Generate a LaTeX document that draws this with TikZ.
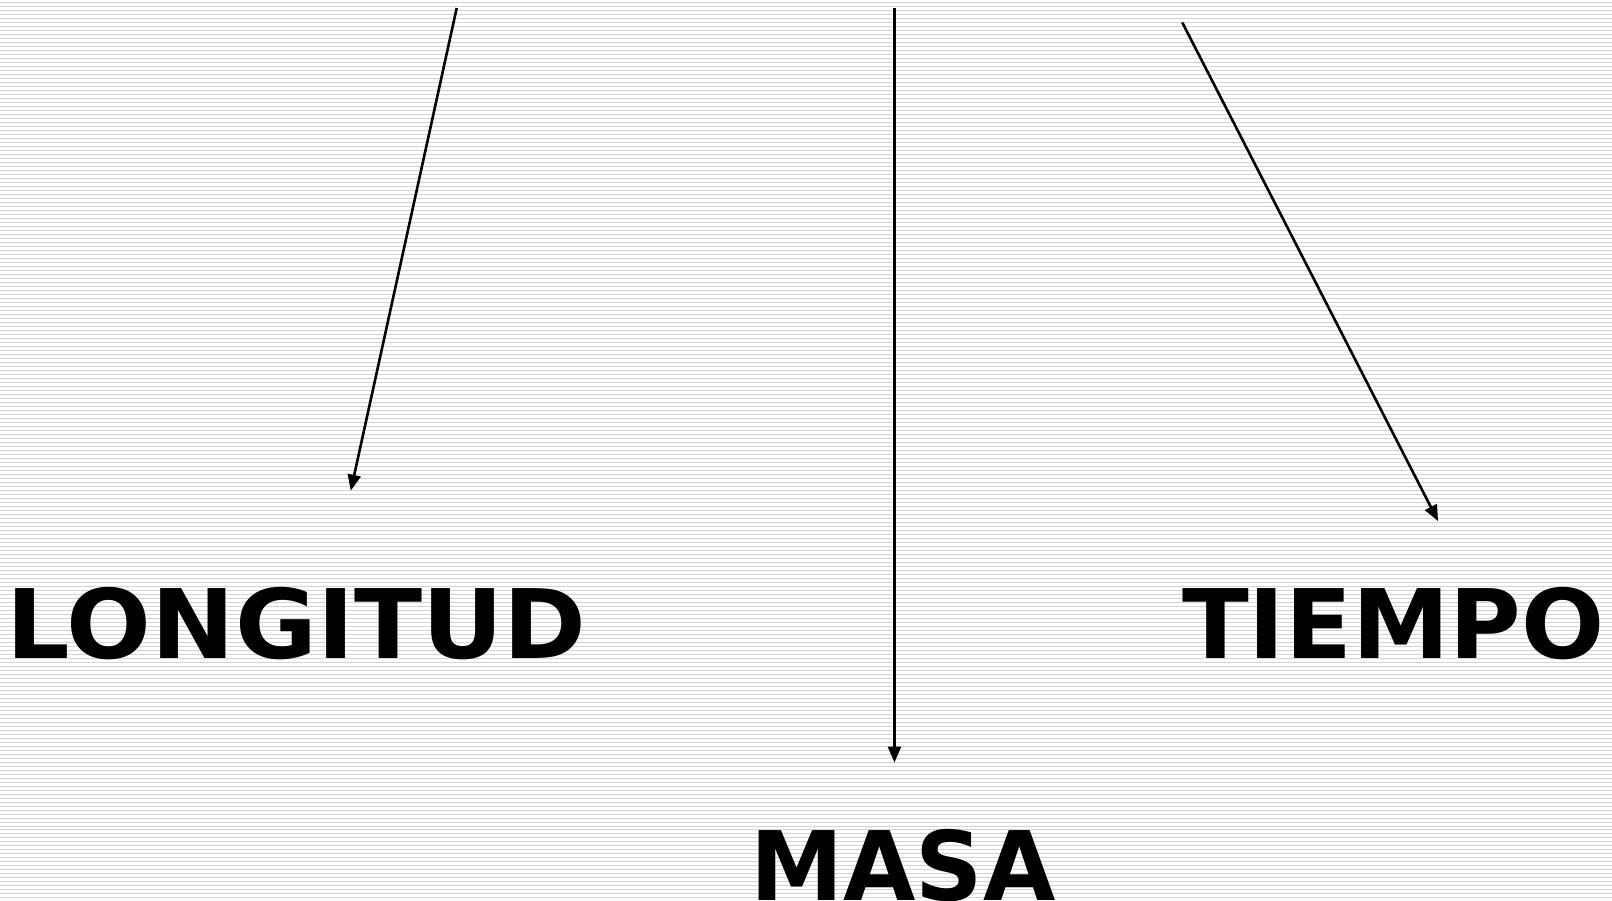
\documentclass[tikz,border=0pt]{standalone}
\usepackage{fontspec}
\setmainfont{DejaVu Sans}
\usetikzlibrary{arrows.meta}

\begin{document}
\begin{tikzpicture}[x=0.5pt, y=-0.5pt,
    raya/.style={draw=black!17, line width=0.5pt},
    flecha/.style={draw=black, line width=1.3pt, -{Triangle[length=8pt,width=6.5pt]}},
    magnitud/.style={inner sep=0pt, anchor=base west, transform shape, font=\fontsize{48}{48}\bfseries}]
    % background with stripes
    \fill[white] (0,0) rectangle (1612,901);
    \foreach \y in {2.5,6.5,...,900.5} {
        \draw[raya] (0,\y) -- (1612,\y);
    }
    \useasboundingbox (0,0) rectangle (1612,901);

    % words
    \node[magnitud, xscale=1.04] (longitud) at (6,659) {LONGITUD};
    \node[magnitud, xscale=1.02] (tiempo) at (1182,659) {TIEMPO};
    \node[magnitud, xscale=0.975] (masa) at (750,901) {MASA};

    % arrow ends
    \coordinate (l0) at (456.5,8);
    \coordinate (l1) at (350.5,491);
    \coordinate (m0) at (894.5,8);
    \coordinate (m1) at (894.5,763);
    \coordinate (t0) at (1182.5,22.5);
    \coordinate (t1) at (1438.5,521.5);

    % arrows
    \draw[flecha] (l0) -- (l1);
    \draw[flecha] (m0) -- (m1);
    \draw[flecha] (t0) -- (t1);
\end{tikzpicture}
\end{document}
